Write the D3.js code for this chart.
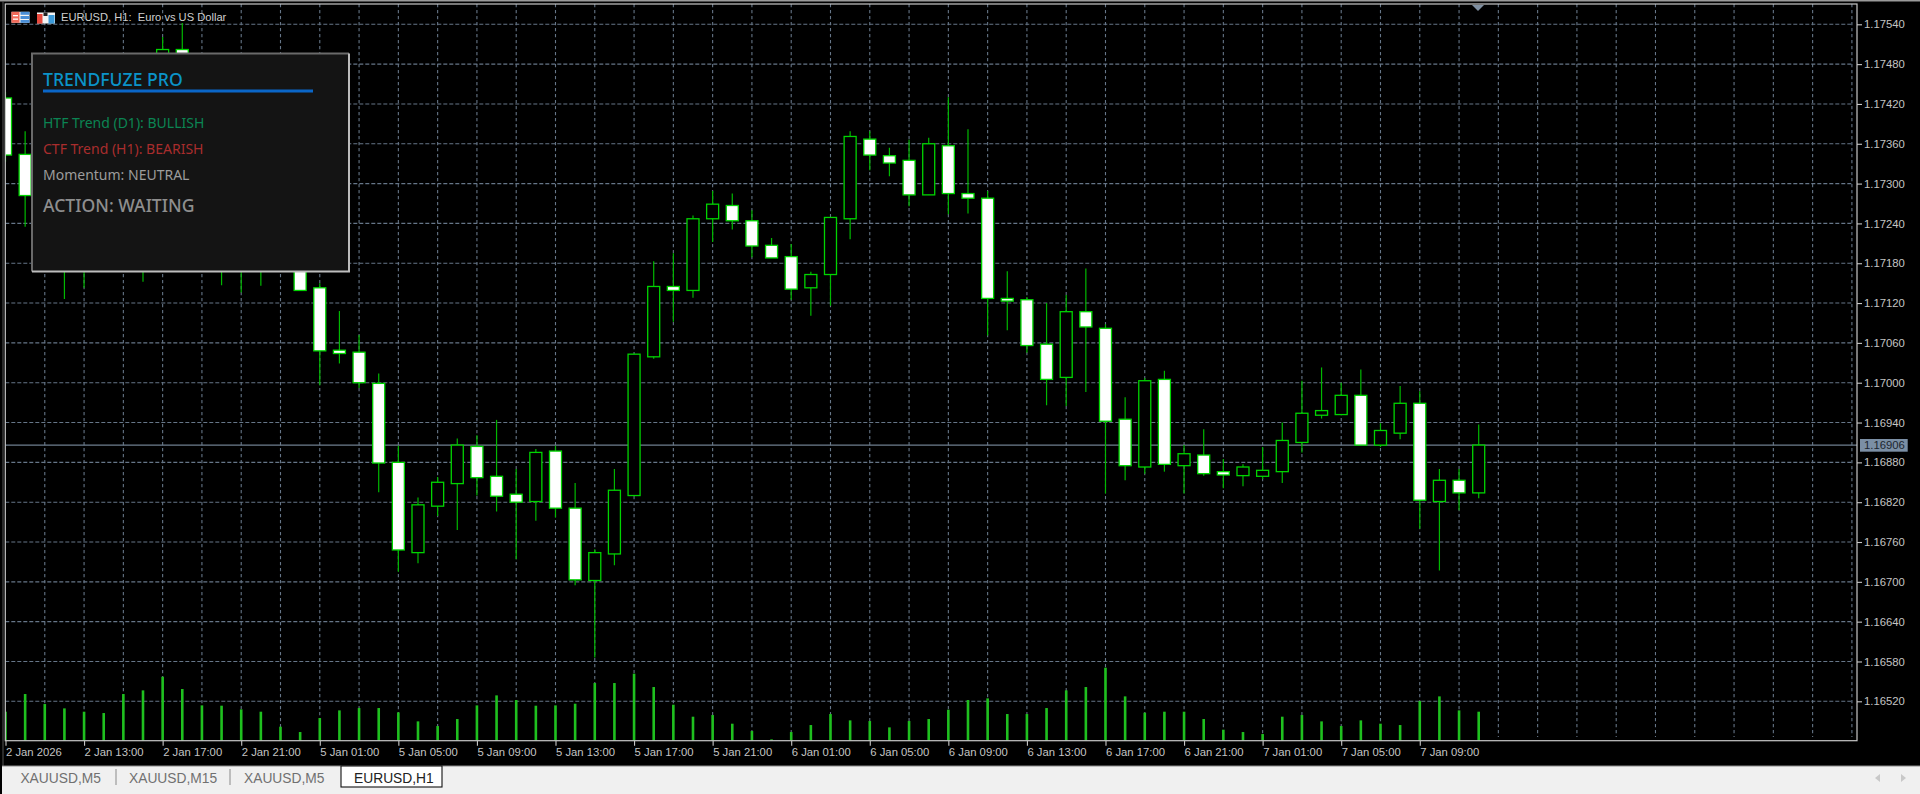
<!DOCTYPE html>
<html><head><meta charset="utf-8">
<script src="https://cdn.jsdelivr.net/npm/d3@7"></script>
<style>
html,body{margin:0;padding:0;background:#000;overflow:hidden}
svg{display:block}
.ax text{font-family:"Liberation Sans",sans-serif;font-size:11.3px;fill:#c4c4c4}
</style></head><body><svg id="c" width="1920" height="794"></svg>
<script>
const symbolTitle = "EURUSD, H1:  Euro vs US Dollar";
const tabNames = ["XAUUSD,M5","XAUUSD,M15","XAUUSD,M5","EURUSD,H1"];
const panelTitle = "TRENDFUZE PRO";
const panelLines = ["HTF Trend (D1): BULLISH","CTF Trend (H1): BEARISH","Momentum: NEUTRAL"];
const panelAction = "ACTION: WAITING";
const priceTicks = [1.17540,1.17480,1.17420,1.17360,1.17300,1.17240,1.17180,1.17120,1.17060,1.17000,1.16940,1.16880,1.16820,1.16760,1.16700,1.16640,1.16580,1.16520];
const timeLabels = ["2 Jan 2026","2 Jan 13:00","2 Jan 17:00","2 Jan 21:00","5 Jan 01:00","5 Jan 05:00","5 Jan 09:00","5 Jan 13:00","5 Jan 17:00","5 Jan 21:00","6 Jan 01:00","6 Jan 05:00","6 Jan 09:00","6 Jan 13:00","6 Jan 17:00","6 Jan 21:00","7 Jan 01:00","7 Jan 05:00","7 Jan 09:00"];
const currentPrice = 1.16906;
const opens = [1.17429,1.17344,1.17282,1.17190,1.17260,1.17300,1.17340,1.17300,1.17450,1.17502,1.17430,1.17380,1.17300,1.17230,1.17200,1.17220,1.17143,1.17049,1.17046,1.16999,1.16880,1.16744,1.16814,1.16848,1.16904,1.16859,1.16832,1.16821,1.16897,1.16811,1.16702,1.16742,1.16830,1.17039,1.17145,1.17139,1.17247,1.17267,1.17244,1.17207,1.17190,1.17143,1.17163,1.17247,1.17367,1.17342,1.17335,1.17283,1.17357,1.17285,1.17278,1.17127,1.17125,1.17058,1.17008,1.17107,1.17082,1.16945,1.16873,1.17005,1.16875,1.16891,1.16866,1.16860,1.16859,1.16866,1.16910,1.16951,1.16952,1.16981,1.16906,1.16924,1.16969,1.16821,1.16853,1.16834];
const highs = [1.17438,1.17379,1.17300,1.17290,1.17330,1.17360,1.17420,1.17470,1.17521,1.17542,1.17450,1.17400,1.17330,1.17250,1.17240,1.17240,1.17150,1.17108,1.17072,1.17014,1.16905,1.16827,1.16858,1.16916,1.16921,1.16944,1.16870,1.16900,1.16905,1.16849,1.16749,1.16870,1.17043,1.17183,1.17195,1.17252,1.17289,1.17285,1.17260,1.17218,1.17209,1.17167,1.17249,1.17379,1.17379,1.17354,1.17366,1.17369,1.17430,1.17382,1.17289,1.17168,1.17129,1.17120,1.17132,1.17172,1.17088,1.16978,1.17007,1.17018,1.16906,1.16930,1.16885,1.16877,1.16903,1.16940,1.17003,1.17023,1.17000,1.17020,1.16939,1.16995,1.16987,1.16870,1.16870,1.16937];
const lows = [1.17333,1.17235,1.17250,1.17126,1.17143,1.17280,1.17310,1.17152,1.17420,1.17400,1.17350,1.17147,1.17136,1.17146,1.17180,1.17139,1.16996,1.17029,1.16992,1.16835,1.16715,1.16728,1.16799,1.16778,1.16830,1.16806,1.16734,1.16792,1.16797,1.16695,1.16586,1.16725,1.16830,1.17036,1.17092,1.17128,1.17212,1.17231,1.17189,1.17188,1.17125,1.17101,1.17116,1.17216,1.17320,1.17311,1.17266,1.17283,1.17254,1.17255,1.17071,1.17079,1.17045,1.16966,1.16965,1.16986,1.16833,1.16853,1.16863,1.16866,1.16833,1.16860,1.16841,1.16844,1.16855,1.16849,1.16895,1.16946,1.16952,1.16906,1.16903,1.16915,1.16780,1.16717,1.16808,1.16826];
const closes = [1.17343,1.17282,1.17300,1.17260,1.17300,1.17340,1.17400,1.17450,1.17502,1.17430,1.17380,1.17300,1.17230,1.17200,1.17220,1.17139,1.17048,1.17044,1.17000,1.16879,1.16748,1.16816,1.16850,1.16906,1.16857,1.16829,1.16820,1.16895,1.16811,1.16703,1.16744,1.16838,1.17043,1.17145,1.17139,1.17247,1.17269,1.17244,1.17206,1.17188,1.17141,1.17163,1.17249,1.17371,1.17343,1.17331,1.17283,1.17360,1.17285,1.17278,1.17127,1.17123,1.17056,1.17005,1.17107,1.17084,1.16942,1.16875,1.17003,1.16877,1.16893,1.16863,1.16861,1.16873,1.16868,1.16913,1.16954,1.16958,1.16981,1.16906,1.16928,1.16969,1.16823,1.16853,1.16834,1.16906];
const volumes = [2900,4667,3667,3233,2900,2767,4667,5033,6400,5167,3533,3500,3133,2900,1400,867,2267,3033,3267,3267,2833,1933,1467,2167,3533,4533,4067,3500,3533,3700,5767,5767,6700,5367,3600,2400,2567,1700,967,133,867,1567,2667,2033,1967,1333,1967,2167,3100,4067,4233,2667,2667,3267,5033,5367,7300,4433,2800,2900,2900,2167,1100,867,667,2400,2567,1933,1467,2033,1700,1567,3967,4433,3033,2900];

const W=1920,H=794, L=5.3,R=1857,T=4,B=740.7, GRID="#667688", GREEN="#00d400";
const svg=d3.select("#c");
const barIndex=d3.range(opens.length);
const gridIndex=d3.range(2,96,2);
const x=d3.scaleLinear().domain([0,75]).range([5.5,1478.7]);
const y=d3.scaleLinear().domain([1.16520,1.17540]).range([701.3,24.3]);
const v=d3.scaleLinear().domain([0,7300]).range([B,B-73]);

svg.append("rect").attr("width",W).attr("height",H).attr("fill","#000");
svg.append("rect").attr("width",W).attr("height",1.5).attr("fill","#9a9a9a");
svg.append("defs").append("clipPath").attr("id","plot").append("rect").attr("x",L).attr("y",T).attr("width",R-L).attr("height",B-T);

// grid
const grid=svg.append("g").attr("clip-path","url(#plot)").attr("stroke",GRID).attr("stroke-width",1.1).attr("fill","none");
grid.selectAll("line.h").data(priceTicks).join("line").attr("class","h").attr("stroke-dasharray","4 2").attr("x1",L).attr("x2",1853).attr("y1",d=>y(d)).attr("y2",d=>y(d));
grid.selectAll("line.v").data(gridIndex).join("line").attr("class","v").attr("stroke-dasharray","3.3 2.7").attr("x1",d=>x(d)).attr("x2",d=>x(d)).attr("y1",T).attr("y2",737);

// current price line
svg.append("line").attr("x1",L).attr("x2",R).attr("y1",y(currentPrice)).attr("y2",y(currentPrice)).attr("stroke","#6f7f8f").attr("stroke-width",1.2);

const plot=svg.append("g").attr("clip-path","url(#plot)");
// volumes
plot.selectAll("rect.vol").data(barIndex).join("rect").attr("class","vol")
  .attr("x",i=>x(i)-1.3).attr("width",2.6).attr("y",i=>v(volumes[i])).attr("height",i=>B-v(volumes[i])).attr("fill","#1fc01f");
// wicks
plot.selectAll("line.w").data(barIndex).join("line").attr("class","w")
  .attr("x1",i=>x(i)).attr("x2",i=>x(i)).attr("y1",i=>y(highs[i])).attr("y2",i=>y(lows[i])).attr("stroke","#00b800").attr("stroke-width",1.2);
// bodies
plot.selectAll("rect.b").data(barIndex).join("rect").attr("class","b")
  .attr("x",i=>x(i)-6).attr("width",12)
  .attr("y",i=>y(Math.max(opens[i],closes[i])))
  .attr("height",i=>Math.abs(y(opens[i])-y(closes[i])))
  .attr("fill",i=>closes[i]>opens[i]?"#000":"#fff")
  .attr("stroke",GREEN).attr("stroke-width",1.3);

// frame
svg.append("rect").attr("x",L).attr("y",T).attr("width",R-L).attr("height",B-T).attr("fill","none").attr("stroke","#c8c8c8").attr("stroke-width",1.2);
svg.append("line").attr("x1",3).attr("x2",3).attr("y1",1).attr("y2",766).attr("stroke","#555").attr("stroke-width",1);

// axes
const yAxis=d3.axisRight(y).tickValues(priceTicks).tickFormat(d3.format(".5f")).tickSize(5).tickPadding(2);
const ya=svg.append("g").attr("class","ax").attr("transform",`translate(${R},0)`).call(yAxis);
ya.select(".domain").remove(); ya.selectAll("line").attr("stroke","#c8c8c8").attr("stroke-width",1.1);

const xTickIdx=barIndex.filter(i=>i%4===0);
const xAxis=d3.axisBottom(x).tickValues(xTickIdx).tickFormat((d,k)=>timeLabels[k]).tickSize(5).tickPadding(1);
const xa=svg.append("g").attr("class","ax").attr("transform",`translate(0,${B})`).call(xAxis);
xa.select(".domain").remove(); xa.selectAll("line").attr("stroke","#c8c8c8").attr("stroke-width",1.1);
xa.selectAll("text").attr("text-anchor","start").attr("dy","0.8em");

// current price tag
svg.append("rect").attr("x",1860).attr("y",439).attr("width",47.7).attr("height",12.7).attr("fill","#7b8fa5");
svg.append("text").attr("x",1864).attr("y",y(currentPrice)).attr("dy","0.36em").attr("font-family","Liberation Sans").attr("font-size",11.3).attr("fill","#1c2630").text(d3.format(".5f")(currentPrice));

// shift marker
svg.append("path").attr("d","M1472 5L1484 5L1478 11Z").attr("fill","#8090a2");

// header
const ic=svg.append("g");
ic.append("rect").attr("x",11.5).attr("y",11.8).attr("width",18).attr("height",11).attr("fill","#f4f4f4");
ic.append("rect").attr("x",11.5).attr("y",11.8).attr("width",8).attr("height",11).attr("fill","#ef6a5a");
ic.append("rect").attr("x",20.5).attr("y",11.8).attr("width",9).attr("height",3).attr("fill","#4a8fd8");
ic.append("rect").attr("x",20.5).attr("y",16).attr("width",9).attr("height",3).attr("fill","#4a8fd8");
ic.append("rect").attr("x",20.5).attr("y",20).attr("width",9).attr("height",2.8).attr("fill","#4a8fd8");
ic.append("rect").attr("x",13).attr("y",15).attr("width",5).attr("height",1.3).attr("fill","#fff");
ic.append("rect").attr("x",13).attr("y",18.5).attr("width",5).attr("height",1.3).attr("fill","#fff");
ic.append("rect").attr("x",37).attr("y",12.5).attr("width",18).attr("height",11).attr("fill","#f4f4f4");
ic.append("rect").attr("x",37).attr("y",14).attr("width",5.5).attr("height",9.5).attr("fill","#e8483c");
ic.append("rect").attr("x",48.5).attr("y",15).attr("width",6).attr("height",8.5).attr("fill","#3b9ad9");
ic.append("rect").attr("x",43.5).attr("y",12.5).attr("width",4).attr("height",3.5).attr("fill","#222");
svg.append("text").attr("x",61).attr("y",21.3).attr("font-family","Liberation Sans").attr("font-size",11.15).attr("fill","#cfcfcf").style("white-space","pre").text(symbolTitle);

// panel
const P=svg.append("g");
P.append("rect").attr("x",32).attr("y",53.5).attr("width",317).attr("height",218).attr("fill","#141414");
P.append("path").attr("d","M32 271.5V53.5H349").attr("fill","none").attr("stroke","#6a6a6a").attr("stroke-width",2);
P.append("path").attr("d","M349 53.5V271.5H32").attr("fill","none").attr("stroke","#bdbdbd").attr("stroke-width",2);
const NS='"Noto Sans","Open Sans",sans-serif';
P.append("text").attr("x",43).attr("y",85.5).attr("font-family",NS).attr("font-size",17.6).attr("font-weight",500).attr("fill","#0b93c9").text(panelTitle);
P.append("rect").attr("x",43).attr("y",89.5).attr("width",270).attr("height",3).attr("fill","#0a66c8");
const lineCols=["#0b8453","#a92d2d","#9c9c9c"], lineY=[128,154.3,180];
P.selectAll("text.l").data(panelLines).join("text").attr("class","l").attr("x",43).attr("y",(d,i)=>lineY[i]).attr("font-family",NS).attr("font-size",14).attr("fill",(d,i)=>lineCols[i]).text(d=>d);
P.append("text").attr("x",43).attr("y",212).attr("font-family",NS).attr("font-size",17.6).attr("font-weight",500).attr("fill","#8e8e8e").text(panelAction);

// tabs
svg.append("rect").attr("x",2).attr("y",766).attr("width",W-2).attr("height",28).attr("fill","#f0f0f0");
svg.append("line").attr("x1",2).attr("x2",W).attr("y1",766).attr("y2",766).attr("stroke","#8a8a8a").attr("stroke-width",1);
svg.append("rect").attr("x",341).attr("y",766).attr("width",101).attr("height",21).attr("fill","#fff").attr("stroke","#111").attr("stroke-width",1.1);
const tabX=[20.4,129,244,354];
svg.selectAll("text.tab").data(tabNames).join("text").attr("class","tab").attr("x",(d,i)=>tabX[i]).attr("y",783).attr("font-family","Liberation Sans").attr("font-size",13.8).attr("fill",(d,i)=>i===3?"#222":"#707070").text(d=>d);
[116,230].forEach(a=>svg.append("line").attr("x1",a).attr("x2",a).attr("y1",769).attr("y2",785).attr("stroke","#8a8a8a"));
svg.append("path").attr("d","M1880 774V782L1875 778Z").attr("fill","#c8c8c8");
svg.append("path").attr("d","M1901 774V782L1906 778Z").attr("fill","#c8c8c8");
</script></body></html>
